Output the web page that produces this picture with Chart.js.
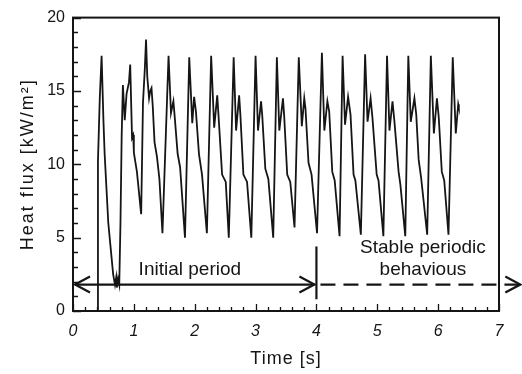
<!DOCTYPE html>
<html>
<head>
<meta charset="utf-8">
<script src="https://cdn.jsdelivr.net/npm/chart.js@4"></script>
<style>
  body { margin: 0; background: #fff; }
</style>
</head>
<body>
<canvas id="heatFlux" width="522" height="374"></canvas>
<script>
// time [s] and heat flux [kW/m2]
const times = [
    0.40, 0.41, 0.44, 0.47, 0.50, 0.52, 0.58, 0.66, 0.69, 0.71, 0.72, 0.74, 0.76, 0.78, 0.80, 0.82,
    0.85, 0.88, 0.92, 0.94, 0.96, 0.97, 0.99, 1.00, 1.05, 1.12, 1.15, 1.18, 1.20, 1.22, 1.25, 1.27,
    1.29, 1.31, 1.34, 1.38, 1.42, 1.47,
    1.57, 1.61, 1.65, 1.67, 1.72, 1.76, 1.84,
    1.91, 1.96, 1.99, 2.02, 2.07, 2.12, 2.20,
    2.27, 2.32, 2.37, 2.39, 2.45, 2.51, 2.56,
    2.64, 2.68, 2.73, 2.75, 2.80, 2.86, 2.93,
    3.00, 3.04, 3.09, 3.11, 3.16, 3.21, 3.29,
    3.35, 3.39, 3.45, 3.47, 3.52, 3.57, 3.64,
    3.71, 3.76, 3.80, 3.82, 3.87, 3.92, 4.01,
    4.09, 4.13, 4.18, 4.21, 4.26, 4.30, 4.38,
    4.43, 4.47, 4.52, 4.56, 4.61, 4.64, 4.73,
    4.80, 4.84, 4.89, 4.92, 4.99, 5.02, 5.10,
    5.16, 5.20, 5.25, 5.28, 5.35, 5.38, 5.46,
    5.51, 5.55, 5.61, 5.64, 5.68, 5.72, 5.82,
    5.88, 5.93, 5.98, 6.01, 6.06, 6.10, 6.17,
    6.24, 6.29, 6.33, 6.34,
];
const heatFlux = [
    0.0, 10.2, 14.5, 17.4, 13.0, 10.7, 6.0, 2.5, 1.8, 2.3, 1.6, 2.2, 1.8, 6.0, 12.0, 15.4,
    13.0, 14.8, 15.6, 16.8, 13.5, 11.8, 12.0, 10.8, 9.5, 6.6, 14.2, 16.5, 18.5, 16.0, 14.5, 15.0,
    15.2, 14.0, 11.5, 10.5, 9.0, 5.3,
    17.4, 13.5, 14.3, 13.3, 10.7, 9.8, 5.0,
    17.3, 12.8, 14.6, 13.6, 10.7, 9.3, 5.3,
    17.4, 12.5, 14.7, 13.4, 9.3, 8.8, 5.0,
    17.3, 12.3, 14.7, 13.4, 9.3, 8.8, 5.0,
    17.4, 12.3, 14.3, 13.3, 9.7, 9.0, 5.0,
    17.3, 12.3, 14.5, 13.3, 9.3, 8.8, 5.7,
    17.3, 12.6, 14.5, 13.8, 10.1, 9.3, 5.3,
    17.6, 12.3, 14.3, 13.6, 9.5, 8.9, 5.1,
    17.4, 12.7, 14.6, 13.4, 9.3, 8.9, 5.2,
    17.5, 12.9, 14.5, 13.2, 9.3, 8.9, 5.1,
    17.4, 12.3, 14.3, 13.0, 9.5, 8.6, 5.1,
    17.4, 12.9, 14.5, 13.4, 10.3, 9.1, 5.2,
    17.4, 12.1, 14.5, 13.2, 9.5, 8.9, 5.2,
    17.3, 12.1, 14.1, 13.9,
];
const xTicks = [0, 1, 2, 3, 4, 5, 6, 7];
const yTicks = [0, 5, 10, 15, 20];

const ink = '#151515';
const fontFamily = '"Liberation Sans", Arial, sans-serif';

// inner ticks, closed frame, axis titles, arrows and labels
const decorations = {
    id: 'decorations',
    afterDatasetsDraw(chart) {
        const { ctx, chartArea: a } = chart;
        const x = chart.scales.x;
        const y = chart.scales.y;
        ctx.save();
        ctx.strokeStyle = ink;
        ctx.fillStyle = ink;

        ctx.lineWidth = 2;
        ctx.strokeRect(a.left, a.top, a.right - a.left, a.bottom - a.top);

        ctx.lineWidth = 1.3;
        ctx.beginPath();
        for (let v = 0; v <= 7.001; v += 0.2) {
            const px = Math.round(x.getPixelForValue(v)) + 0.5;
            const major = Math.abs(v - Math.round(v)) < 0.01;
            ctx.moveTo(px, a.bottom);
            ctx.lineTo(px, a.bottom - (major ? 7 : 4));
        }
        for (let v = 0; v <= 20; v += 1) {
            const py = Math.round(y.getPixelForValue(v)) + 0.5;
            ctx.moveTo(a.left, py);
            ctx.lineTo(a.left + (v % 5 === 0 ? 8 : 5), py);
        }
        ctx.stroke();

        const arrowY = y.getPixelForValue(1.8);
        const x0 = x.getPixelForValue(0) + 2;
        const x4 = x.getPixelForValue(4);
        const xEnd = x.getPixelForValue(7.35);

        const chevron = (tip, dir) => {
            ctx.beginPath();
            ctx.moveTo(tip - dir * 15, arrowY - 8);
            ctx.lineTo(tip, arrowY);
            ctx.lineTo(tip - dir * 15, arrowY + 8);
            ctx.stroke();
        };

        ctx.lineWidth = 2.2;
        ctx.beginPath();
        ctx.moveTo(x0, arrowY);
        ctx.lineTo(x4 - 2, arrowY);
        ctx.stroke();
        chevron(x0, -1);
        chevron(x4 - 2, 1);

        ctx.beginPath();
        ctx.moveTo(x4, y.getPixelForValue(4.4));
        ctx.lineTo(x4, y.getPixelForValue(0.8));
        ctx.stroke();

        ctx.setLineDash([15, 8]);
        ctx.beginPath();
        ctx.moveTo(x4 + 4, arrowY);
        ctx.lineTo(xEnd, arrowY);
        ctx.stroke();
        ctx.setLineDash([]);
        chevron(xEnd, 1);

        ctx.font = '19px ' + fontFamily;
        ctx.textAlign = 'center';
        ctx.textBaseline = 'middle';
        ctx.fillText('Initial period', x.getPixelForValue(1.92), y.getPixelForValue(2.8));
        ctx.fillText('Stable periodic', x.getPixelForValue(5.75), y.getPixelForValue(4.3));
        ctx.fillText('behavious', x.getPixelForValue(5.75), y.getPixelForValue(2.8));

        // axis titles, spaced out like the original print
        ctx.font = '18px ' + fontFamily;
        ctx.letterSpacing = '1px';
        ctx.fillText('Time [s]', (a.left + a.right) / 2, 359);

        ctx.translate(28, (a.top + a.bottom) / 2);
        ctx.rotate(-Math.PI / 2);
        ctx.letterSpacing = '2px';
        ctx.fillText('Heat flux [kW/m²]', 0, 0);
        ctx.restore();
    },
};

new Chart(document.getElementById('heatFlux'), {
    type: 'scatter',
    data: {
        datasets: [
            {
                label: 'Heat flux',
                data: times.map((t, i) => ({ x: t, y: heatFlux[i] })),
                showLine: true,
                borderColor: ink,
                borderWidth: 1.8,
                pointRadius: 0,
                tension: 0,
                fill: false,
            },
        ],
    },
    options: {
        responsive: false,
        animation: false,
        layout: { padding: { left: 0, right: 23, top: 15, bottom: 0 } },
        plugins: {
            legend: { display: false },
            tooltip: { enabled: false },
        },
        scales: {
            x: {
                type: 'linear',
                min: 0,
                max: 7,
                afterBuildTicks: (s) => { s.ticks = xTicks.map((v) => ({ value: v })); },
                afterFit: (s) => { s.height = 63; },
                grid: { display: false, drawTicks: false },
                border: { display: false },
                ticks: {
                    padding: 11,
                    color: ink,
                    font: { family: fontFamily, size: 16, style: 'italic' },
                },
            },
            y: {
                min: 0,
                max: 20,
                afterBuildTicks: (s) => { s.ticks = yTicks.map((v) => ({ value: v })); },
                afterFit: (s) => { s.width = 73; },
                grid: { display: false, drawTicks: false },
                border: { display: false },
                ticks: {
                    padding: 8,
                    color: ink,
                    font: { family: fontFamily, size: 16 },
                },
            },
        },
    },
    plugins: [decorations],
});
</script>
</body>
</html>
